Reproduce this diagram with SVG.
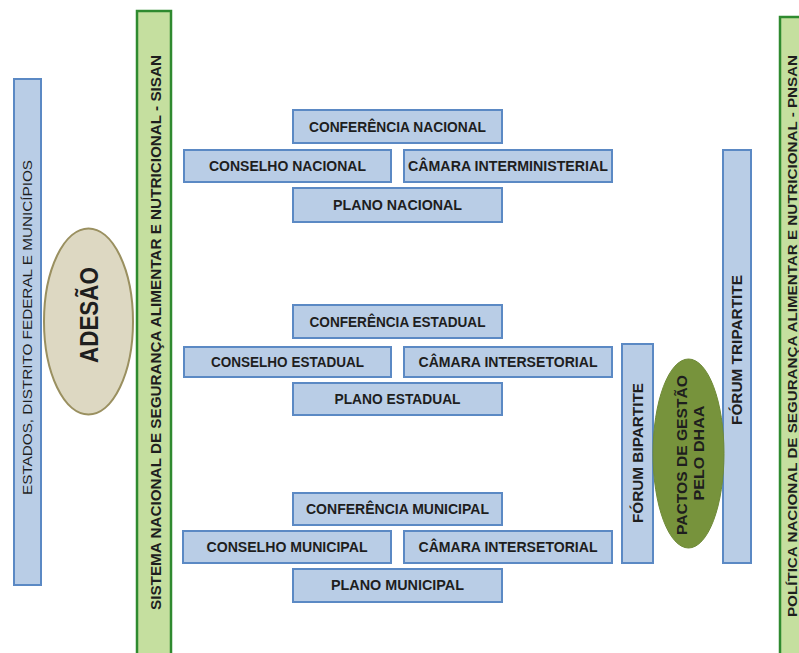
<svg xmlns="http://www.w3.org/2000/svg" width="799" height="653" viewBox="0 0 799 653">
<style>
.box{fill:#b9cde6;stroke:#5b89c4;stroke-width:2}
.gbar{fill:#c5df9f;stroke:#2f8a2f;stroke-width:2.5}
.t{font-family:"Liberation Sans",Arial,sans-serif;font-weight:bold;font-size:14px;fill:#1e1e1e;text-anchor:middle}
.tn{font-family:"Liberation Sans",Arial,sans-serif;font-size:13.5px;fill:#1e1e1e;text-anchor:middle}
</style>
<rect width="799" height="653" fill="#ffffff"/>
<g id="estados">
<rect class="box" x="14" y="79" width="27" height="506"/>
<text class="tn" transform="translate(27,327.5) rotate(-90)" y="5" textLength="335" lengthAdjust="spacingAndGlyphs">ESTADOS, DISTRITO FEDERAL E MUNICÍPIOS</text>
</g>
<g id="adesao">
<ellipse cx="88.5" cy="321.5" rx="44.5" ry="93" fill="#ddd8c2" stroke="#9a9060" stroke-width="2"/>
<text class="t" style="font-size:26px" transform="translate(89,315) rotate(-90)" y="9" textLength="96" lengthAdjust="spacingAndGlyphs">ADESÃO</text>
</g>
<g id="sisan">
<rect class="gbar" x="137" y="11" width="34" height="650"/>
<text class="t" transform="translate(155,332.5) rotate(-90)" y="6" textLength="555" lengthAdjust="spacingAndGlyphs">SISTEMA NACIONAL DE SEGURANÇA ALIMENTAR E NUTRICIONAL - SISAN</text>
</g>
<g id="pnsan">
<rect class="gbar" x="780" y="17" width="40" height="650"/>
<text class="t" style="font-size:13px" transform="translate(791.5,336) rotate(-90)" y="5" textLength="562" lengthAdjust="spacingAndGlyphs">POLÍTICA NACIONAL DE SEGURANÇA ALIMENTAR E NUTRICIONAL - PNSAN</text>
</g>
<g id="conf-nacional">
<rect class="box" x="293" y="110" width="209" height="33"/>
<text class="t" x="397.5" y="131.5" textLength="177" lengthAdjust="spacingAndGlyphs">CONFERÊNCIA NACIONAL</text>
</g>
<g id="cons-nacional">
<rect class="box" x="184" y="150" width="207" height="32"/>
<text class="t" x="287.5" y="171" textLength="157" lengthAdjust="spacingAndGlyphs">CONSELHO NACIONAL</text>
</g>
<g id="camara-inter">
<rect class="box" x="404" y="150" width="208" height="32"/>
<text class="t" x="508" y="171" textLength="200" lengthAdjust="spacingAndGlyphs">CÂMARA INTERMINISTERIAL</text>
</g>
<g id="plano-nacional">
<rect class="box" x="293" y="188" width="209" height="34"/>
<text class="t" x="397.5" y="210" textLength="129" lengthAdjust="spacingAndGlyphs">PLANO NACIONAL</text>
</g>
<g id="conf-estadual">
<rect class="box" x="293" y="305" width="209" height="33"/>
<text class="t" x="397.5" y="326.5" textLength="176" lengthAdjust="spacingAndGlyphs">CONFERÊNCIA ESTADUAL</text>
</g>
<g id="cons-estadual">
<rect class="box" x="184" y="347" width="207" height="30"/>
<text class="t" x="287.5" y="367" textLength="153" lengthAdjust="spacingAndGlyphs">CONSELHO ESTADUAL</text>
</g>
<g id="camara-estadual">
<rect class="box" x="404" y="347" width="208" height="30"/>
<text class="t" x="508" y="367" textLength="179" lengthAdjust="spacingAndGlyphs">CÂMARA INTERSETORIAL</text>
</g>
<g id="plano-estadual">
<rect class="box" x="293" y="383" width="209" height="32"/>
<text class="t" x="397.5" y="404" textLength="126" lengthAdjust="spacingAndGlyphs">PLANO ESTADUAL</text>
</g>
<g id="conf-municipal">
<rect class="box" x="293" y="493" width="209" height="32"/>
<text class="t" x="397.5" y="514" textLength="183" lengthAdjust="spacingAndGlyphs">CONFERÊNCIA MUNICIPAL</text>
</g>
<g id="cons-municipal">
<rect class="box" x="183" y="531" width="208" height="32"/>
<text class="t" x="287" y="552" textLength="161" lengthAdjust="spacingAndGlyphs">CONSELHO MUNICIPAL</text>
</g>
<g id="camara-municipal">
<rect class="box" x="404" y="531" width="208" height="32"/>
<text class="t" x="508" y="552" textLength="179" lengthAdjust="spacingAndGlyphs">CÂMARA INTERSETORIAL</text>
</g>
<g id="plano-municipal">
<rect class="box" x="293" y="569" width="209" height="33"/>
<text class="t" x="397.5" y="590" textLength="133" lengthAdjust="spacingAndGlyphs">PLANO MUNICIPAL</text>
</g>
<g id="forum-bipartite">
<rect class="box" x="622" y="344" width="31" height="219"/>
<text class="t" transform="translate(638,453) rotate(-90)" y="5" textLength="140" lengthAdjust="spacingAndGlyphs">FÓRUM BIPARTITE</text>
</g>
<g id="forum-tripartite">
<rect class="box" x="723" y="150" width="28" height="413"/>
<text class="t" transform="translate(737,350) rotate(-90)" y="5" textLength="150" lengthAdjust="spacingAndGlyphs">FÓRUM TRIPARTITE</text>
</g>
<g id="pactos">
<ellipse cx="688.5" cy="453.5" rx="35.5" ry="94.5" fill="#77933c" stroke="#6f8a38" stroke-width="1"/>
<text class="t" style="font-size:15px" transform="translate(688.5,453) rotate(-90)">
<tspan x="0" y="-2" textLength="160" lengthAdjust="spacingAndGlyphs">PACTOS DE GESTÃO</tspan>
<tspan x="0" y="15" textLength="95" lengthAdjust="spacingAndGlyphs">PELO DHAA</tspan>
</text>
</g>
<g id="connectors"></g>
</svg>
